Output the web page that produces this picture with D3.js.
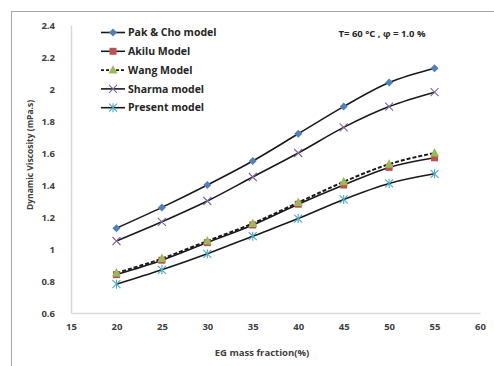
<!DOCTYPE html>
<html>
<head>
<meta charset="utf-8">
<script src="https://cdn.jsdelivr.net/npm/d3@7"></script>
<style>
  body { margin: 0; background: #fff; }
  svg { display: block; }
</style>
</head>
<body>
<div id="chart"></div>
<script>
// Data
const fractions = [20, 25, 30, 35, 40, 45, 50, 55];
const pakCho  = [1.13, 1.26, 1.40, 1.55, 1.72, 1.89, 2.04, 2.13];
const akilu   = [0.84, 0.93, 1.04, 1.15, 1.28, 1.40, 1.51, 1.57];
const wang    = [0.85, 0.94, 1.05, 1.16, 1.29, 1.42, 1.53, 1.60];
const sharma  = [1.05, 1.17, 1.30, 1.45, 1.60, 1.76, 1.89, 1.98];
const present = [0.78, 0.87, 0.97, 1.08, 1.19, 1.31, 1.41, 1.47];
const xTicks = [15, 20, 25, 30, 35, 40, 45, 50, 55, 60];
const yTicks = [0.6, 0.8, 1, 1.2, 1.4, 1.6, 1.8, 2, 2.2, 2.4];

const series = [
  { name: "Pak  & Cho model", values: pakCho,  marker: "diamond",  color: "#4f81bd", dash: null },
  { name: "Akilu Model",      values: akilu,   marker: "square",   color: "#c0504d", dash: null },
  { name: "Wang Model",       values: wang,    marker: "triangle", color: "#9bbb59", dash: "4 2" },
  { name: "Sharma model",     values: sharma,  marker: "cross",    color: "#8064a2", dash: null },
  { name: "Present model",    values: present, marker: "star",     color: "#4bacc6", dash: null },
];

const W = 494, H = 366;
const font = "'Open Sans', 'Liberation Sans', sans-serif";

const svg = d3.select("#chart").append("svg")
  .attr("width", W).attr("height", H);

// cadre extérieur (bords droit et bas hors image)
svg.append("rect")
  .attr("x", 11.5).attr("y", 11.5)
  .attr("width", W).attr("height", H)
  .attr("fill", "none").attr("stroke", "#a6a6a6").attr("stroke-width", 1);

const x = d3.scaleLinear().domain([15, 60]).range([71, 480]);
const y = d3.scaleLinear().domain([0.6, 2.4]).range([313, 25]);

// axes (no ticks, grey line)
const xAxis = svg.append("g")
  .attr("transform", `translate(0,${y(0.6)})`)
  .call(d3.axisBottom(x).tickValues(xTicks).tickSize(0).tickPadding(10).tickFormat(d3.format("d")));
const yAxis = svg.append("g")
  .attr("transform", `translate(${x(15)},0)`)
  .call(d3.axisLeft(y).tickValues(yTicks).tickSize(0).tickPadding(16).tickFormat(d => String(d)));

[xAxis, yAxis].forEach(a => {
  a.select(".domain").attr("stroke", "#d9d9d9").attr("stroke-width", 1.5);
  a.selectAll("text")
    .attr("font-family", font).attr("font-size", 9.5)
    .attr("font-weight", "bold").attr("fill", "#404040");
});
yAxis.selectAll("text").attr("text-anchor", "end");

// titres d'axes
svg.append("text")
  .attr("x", 262).attr("y", 356)
  .attr("text-anchor", "middle")
  .attr("font-family", font).attr("font-size", 9.5).attr("font-weight", "bold")
  .attr("fill", "#404040")
  .text("EG mass fraction(%)");

svg.append("text")
  .attr("transform", "translate(33,155) rotate(-90)")
  .attr("text-anchor", "middle")
  .attr("font-family", font).attr("font-size", 8.5).attr("font-weight", "bold")
  .attr("fill", "#404040")
  .text("Dynamic Viscosity (mPa.s)");

// annotation
svg.append("text")
  .attr("x", 382).attr("y", 37)
  .attr("text-anchor", "middle")
  .attr("font-family", font).attr("font-size", 9.5).attr("font-weight", "bold")
  .attr("fill", "#262626")
  .text("T= 60 °C , φ = 1.0 %");

const line = d3.line()
  .x((d, i) => x(fractions[i]))
  .y(d => y(d))
  .curve(d3.curveMonotoneX);

function drawMarker(g, type, color) {
  if (type === "diamond") {
    g.append("path").attr("d", "M0,-4L4,0L0,4L-4,0Z").attr("fill", color);
  } else if (type === "square") {
    g.append("rect").attr("x", -3.5).attr("y", -3.5).attr("width", 7).attr("height", 7).attr("fill", color);
  } else if (type === "triangle") {
    g.append("path").attr("d", "M0,-5L4.5,3.5L-4.5,3.5Z").attr("fill", color);
  } else if (type === "cross") {
    g.append("path").attr("d", "M-4,-4L4,4M-4,4L4,-4").attr("stroke", color).attr("stroke-width", 1.1).attr("fill", "none");
  } else if (type === "star") {
    g.append("path").attr("d", "M-4,-4L4,4M-4,4L4,-4M0,-4.5L0,4.5").attr("stroke", color).attr("stroke-width", 1.1).attr("fill", "none");
  }
}

// lignes
series.forEach(s => {
  svg.append("path")
    .attr("d", line(s.values))
    .attr("fill", "none")
    .attr("stroke", "#1a1a1a")
    .attr("stroke-width", s.dash ? 2 : 1.6)
    .attr("stroke-dasharray", s.dash);
});

// marqueurs
series.forEach(s => {
  s.values.forEach((v, i) => {
    const g = svg.append("g").attr("transform", `translate(${x(fractions[i])},${y(v)})`);
    drawMarker(g, s.marker, s.color);
  });
});

// légende
const legend = svg.append("g");
series.forEach((s, i) => {
  const ly = 32.5 + i * 18.8;
  const row = legend.append("g").attr("transform", `translate(0,${ly})`);
  row.append("line")
    .attr("x1", 101).attr("x2", 125).attr("y1", 0).attr("y2", 0)
    .attr("stroke", "#1a1a1a").attr("stroke-width", 1.6)
    .attr("stroke-dasharray", s.dash ? "3 2" : null);
  const m = row.append("g").attr("transform", "translate(113,0)");
  drawMarker(m, s.marker, s.color);
  row.append("text")
    .attr("x", 128).attr("y", 0).attr("dy", "0.35em")
    .attr("font-family", font).attr("font-size", 10.5).attr("font-weight", "bold")
    .attr("fill", "#262626")
    .text(s.name);
});
</script>
</body>
</html>
